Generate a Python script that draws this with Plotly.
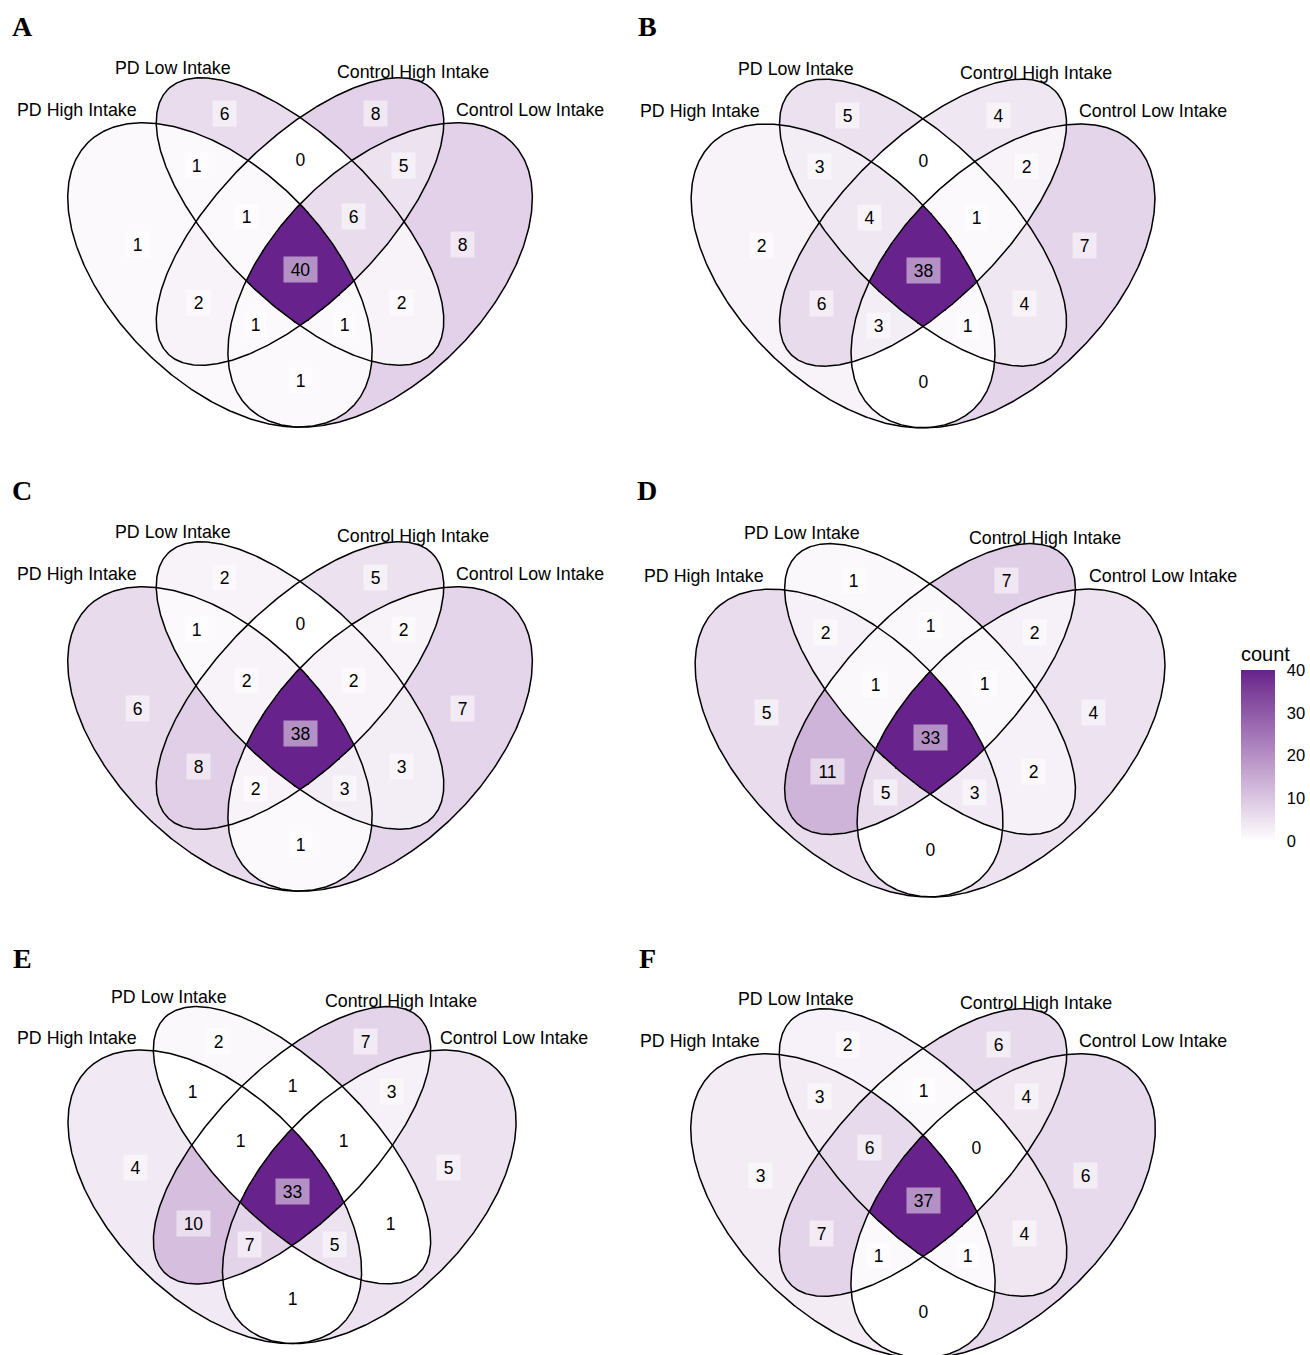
import numpy as np
import plotly.graph_objects as go

W, H = 1310, 1355

# ---------------- data ----------------
SET_NAMES = ["PD High Intake", "PD Low Intake", "Control High Intake", "Control Low Intake"]
# region keys: A=PD High, B=PD Low, C=Control High, D=Control Low
REGION_KEYS = ["A", "B", "C", "D", "AB", "AC", "AD", "BC", "BD", "CD",
               "ABC", "ABD", "ACD", "BCD", "ABCD"]
PANEL_TAGS = ["A", "B", "C", "D", "E", "F"]

counts_A = [1, 6, 8, 8, 1, 2, 1, 0, 2, 5, 1, 1, 1, 6, 40]
counts_B = [2, 5, 4, 7, 3, 6, 0, 0, 4, 2, 4, 1, 3, 1, 38]
counts_C = [6, 2, 5, 7, 1, 8, 1, 0, 3, 2, 2, 3, 2, 2, 38]
counts_D = [5, 1, 7, 4, 2, 11, 0, 1, 2, 2, 1, 3, 5, 1, 33]
counts_E = [4, 2, 7, 5, 1, 10, 1, 1, 1, 3, 1, 5, 7, 1, 33]
counts_F = [3, 2, 6, 6, 3, 7, 0, 1, 4, 4, 6, 1, 1, 0, 37]
PANEL_COUNTS = [counts_A, counts_B, counts_C, counts_D, counts_E, counts_F]

COLORBAR_TICKS = [0, 10, 20, 30, 40]

# ---------------- geometry / style ----------------
# 4-set ellipse layout (cx, cy, a, b, angle in degrees)
ELLIPSES = [(0.35, 0.47, 0.35, 0.20, 135),
            (0.50, 0.57, 0.35, 0.15, 135),
            (0.50, 0.57, 0.35, 0.15, 45),
            (0.65, 0.47, 0.35, 0.20, 45)]
SET_LABEL_POS = [(0.082, 0.779), (0.262, 0.858), (0.712, 0.850), (0.931, 0.779)]

# pixel anchor of the central region label and pixels per unit, per panel
PANEL_ANCHOR = [(300, 269, 534), (923, 270, 533), (300, 733, 534),
                (930, 737, 540), (292, 1191, 515), (923, 1200, 534)]
# pixel box for each subplot (x0, y0, x1, y1)
PANEL_BOX = [(0, 40, 625, 462), (625, 40, 1235, 462),
             (0, 500, 625, 930), (625, 500, 1235, 930),
             (0, 965, 625, 1355), (625, 965, 1235, 1355)]
LETTER_POS = [(22, 27), (647, 27), (22, 491), (647, 491), (22, 958), (647, 958)]

LOW_COL = (255, 255, 255)
HIGH_COL = (0x68, 0x22, 0x8B)


# ---- Lab interpolation (like ggplot's scale_fill_gradient) ----
def srgb_to_lin(c):
    c = c / 255.0
    return np.where(c <= 0.04045, c / 12.92, ((c + 0.055) / 1.055) ** 2.4)


def lin_to_srgb(c):
    c = np.clip(c, 0, 1)
    v = np.where(c <= 0.0031308, 12.92 * c, 1.055 * c ** (1 / 2.4) - 0.055)
    return np.clip(np.round(v * 255), 0, 255).astype(int)


M = np.array([[0.4124564, 0.3575761, 0.1804375],
              [0.2126729, 0.7151522, 0.0721750],
              [0.0193339, 0.1191920, 0.9503041]])
WHITE = M @ np.ones(3)


def rgb_to_lab(rgb):
    xyz = M @ srgb_to_lin(np.array(rgb, float)) / WHITE
    f = np.where(xyz > (6 / 29) ** 3, np.cbrt(xyz), xyz / (3 * (6 / 29) ** 2) + 4 / 29)
    return np.array([116 * f[1] - 16, 500 * (f[0] - f[1]), 200 * (f[1] - f[2])])


def lab_to_rgb(lab):
    L, a, b = lab
    fy = (L + 16) / 116
    fx = fy + a / 500
    fz = fy - b / 200
    f = np.array([fx, fy, fz])
    xyz = np.where(f > 6 / 29, f ** 3, 3 * (6 / 29) ** 2 * (f - 4 / 29)) * WHITE
    return lin_to_srgb(np.linalg.solve(M, xyz))


lab0, lab1 = rgb_to_lab(LOW_COL), rgb_to_lab(HIGH_COL)
COLORSCALE = []
for s in np.linspace(0, 1, 21):
    r, g, b = lab_to_rgb(lab0 + (lab1 - lab0) * s)
    COLORSCALE.append([float(s), f"rgb({r},{g},{b})"])


def inside(ell, X, Y):
    cx, cy, a, b, ang = ell
    th = np.deg2rad(ang)
    dx, dy = X - cx, Y - cy
    u = dx * np.cos(th) + dy * np.sin(th)
    v = -dx * np.sin(th) + dy * np.cos(th)
    return (u / a) ** 2 + (v / b) ** 2 <= 1.0


step = 1 / 450
xs = np.arange(0.055, 0.945, step)
ys = np.arange(0.175, 0.85, step)
X, Y = np.meshgrid(xs, ys)
masks = [inside(e, X, Y) for e in ELLIPSES]
letters = "ABCD"
region_masks = []
for key in REGION_KEYS:
    m = np.ones_like(X, dtype=bool)
    for i, L in enumerate(letters):
        m &= masks[i] if L in key else ~masks[i]
    region_masks.append(m)
centroids = [(float(X[m].mean()), float(Y[m].mean())) for m in region_masks]
cx_all, cy_all = centroids[-1]

t = np.linspace(0, 2 * np.pi, 500)
outlines = []
for (cx, cy, a, b, ang) in ELLIPSES:
    th = np.deg2rad(ang)
    ox = cx + a * np.cos(t) * np.cos(th) - b * np.sin(t) * np.sin(th)
    oy = cy + a * np.cos(t) * np.sin(th) + b * np.sin(t) * np.cos(th)
    outlines.append((ox, oy))

fig = go.Figure()
annotations = []
layout = dict(width=W, height=H, margin=dict(l=0, r=0, t=0, b=0),
              paper_bgcolor="white", plot_bgcolor="rgba(0,0,0,0)",
              showlegend=False, font=dict(family="Liberation Sans, Arial, sans-serif", color="black"))

for p, counts in enumerate(PANEL_COUNTS):
    k = p + 1
    xa = "x" if k == 1 else f"x{k}"
    ya = "y" if k == 1 else f"y{k}"
    ca = "coloraxis" if k == 1 else f"coloraxis{k}"
    z = np.full(X.shape, np.nan, dtype=np.float32)
    for m, c in zip(region_masks, counts):
        z[m] = c
    fig.add_trace(go.Heatmap(x=xs, y=ys, z=z, coloraxis=ca, xaxis=xa, yaxis=ya,
                             hoverinfo="skip", zsmooth=False))
    for ox, oy in outlines:
        fig.add_trace(go.Scatter(x=ox, y=oy, mode="lines", xaxis=xa, yaxis=ya,
                                 line=dict(color="black", width=1.5), hoverinfo="skip"))
    pxc, pyc, s = PANEL_ANCHOR[p]
    x0, y0, x1, y1 = PANEL_BOX[p]
    xr = [cx_all + (x0 - pxc) / s, cx_all + (x1 - pxc) / s]
    yr = [cy_all + (pyc - y1) / s, cy_all + (pyc - y0) / s]
    axname = "xaxis" if k == 1 else f"xaxis{k}"
    ayname = "yaxis" if k == 1 else f"yaxis{k}"
    layout[axname] = dict(domain=[x0 / W, x1 / W], range=xr, visible=False,
                          anchor=ya, fixedrange=True)
    layout[ayname] = dict(domain=[1 - y1 / H, 1 - y0 / H], range=yr, visible=False,
                          anchor=xa, fixedrange=True)
    cmin, cmax = min(counts), max(counts)
    cdict = dict(colorscale=COLORSCALE, cmin=cmin, cmax=cmax, showscale=(k == 1))
    if k == 1:
        cdict["colorbar"] = dict(
            title=dict(text="count", side="top", font=dict(size=20)),
            thicknessmode="pixels", thickness=34, lenmode="pixels", len=198,
            x=1241 / W, xanchor="left", y=1 - 841 / H, yanchor="bottom",
            xpad=0, ypad=0, outlinewidth=0, tickvals=COLORBAR_TICKS,
            ticks="outside", ticklen=9, tickcolor="rgba(255,255,255,0)", tickwidth=1,
            tickfont=dict(size=16.5, color="black"))
    layout[ca] = cdict

    for name, (lx, ly) in zip(SET_NAMES, SET_LABEL_POS):
        annotations.append(dict(x=lx, y=ly, xref=xa, yref=ya, text=name, showarrow=False,
                                xanchor="center", yanchor="middle",
                                font=dict(size=17.8, color="black")))
    for (rx, ry), c in zip(centroids, counts):
        txt = str(c)
        annotations.append(dict(x=rx, y=ry, xref=xa, yref=ya, text=txt, showarrow=False,
                                xanchor="center", yanchor="middle",
                                font=dict(size=17.5, color="black"),
                                bgcolor="rgba(255,255,255,0.5)", borderpad=1,
                                width=10 * len(txt) + 11, height=23))
    lxp, lyp = LETTER_POS[p]
    annotations.append(dict(x=lxp / W, y=1 - lyp / H, xref="paper", yref="paper",
                            xanchor="center", yanchor="middle",
                            text=f"<b>{PANEL_TAGS[p]}</b>", showarrow=False,
                            font=dict(size=28, family="Liberation Serif, Times New Roman, serif",
                                      color="black")))

layout["annotations"] = annotations
fig.update_layout(**layout)
fig.write_html("out.html", config={"displayModeBar": False},
               post_script="document.body.style.margin='0px';")
